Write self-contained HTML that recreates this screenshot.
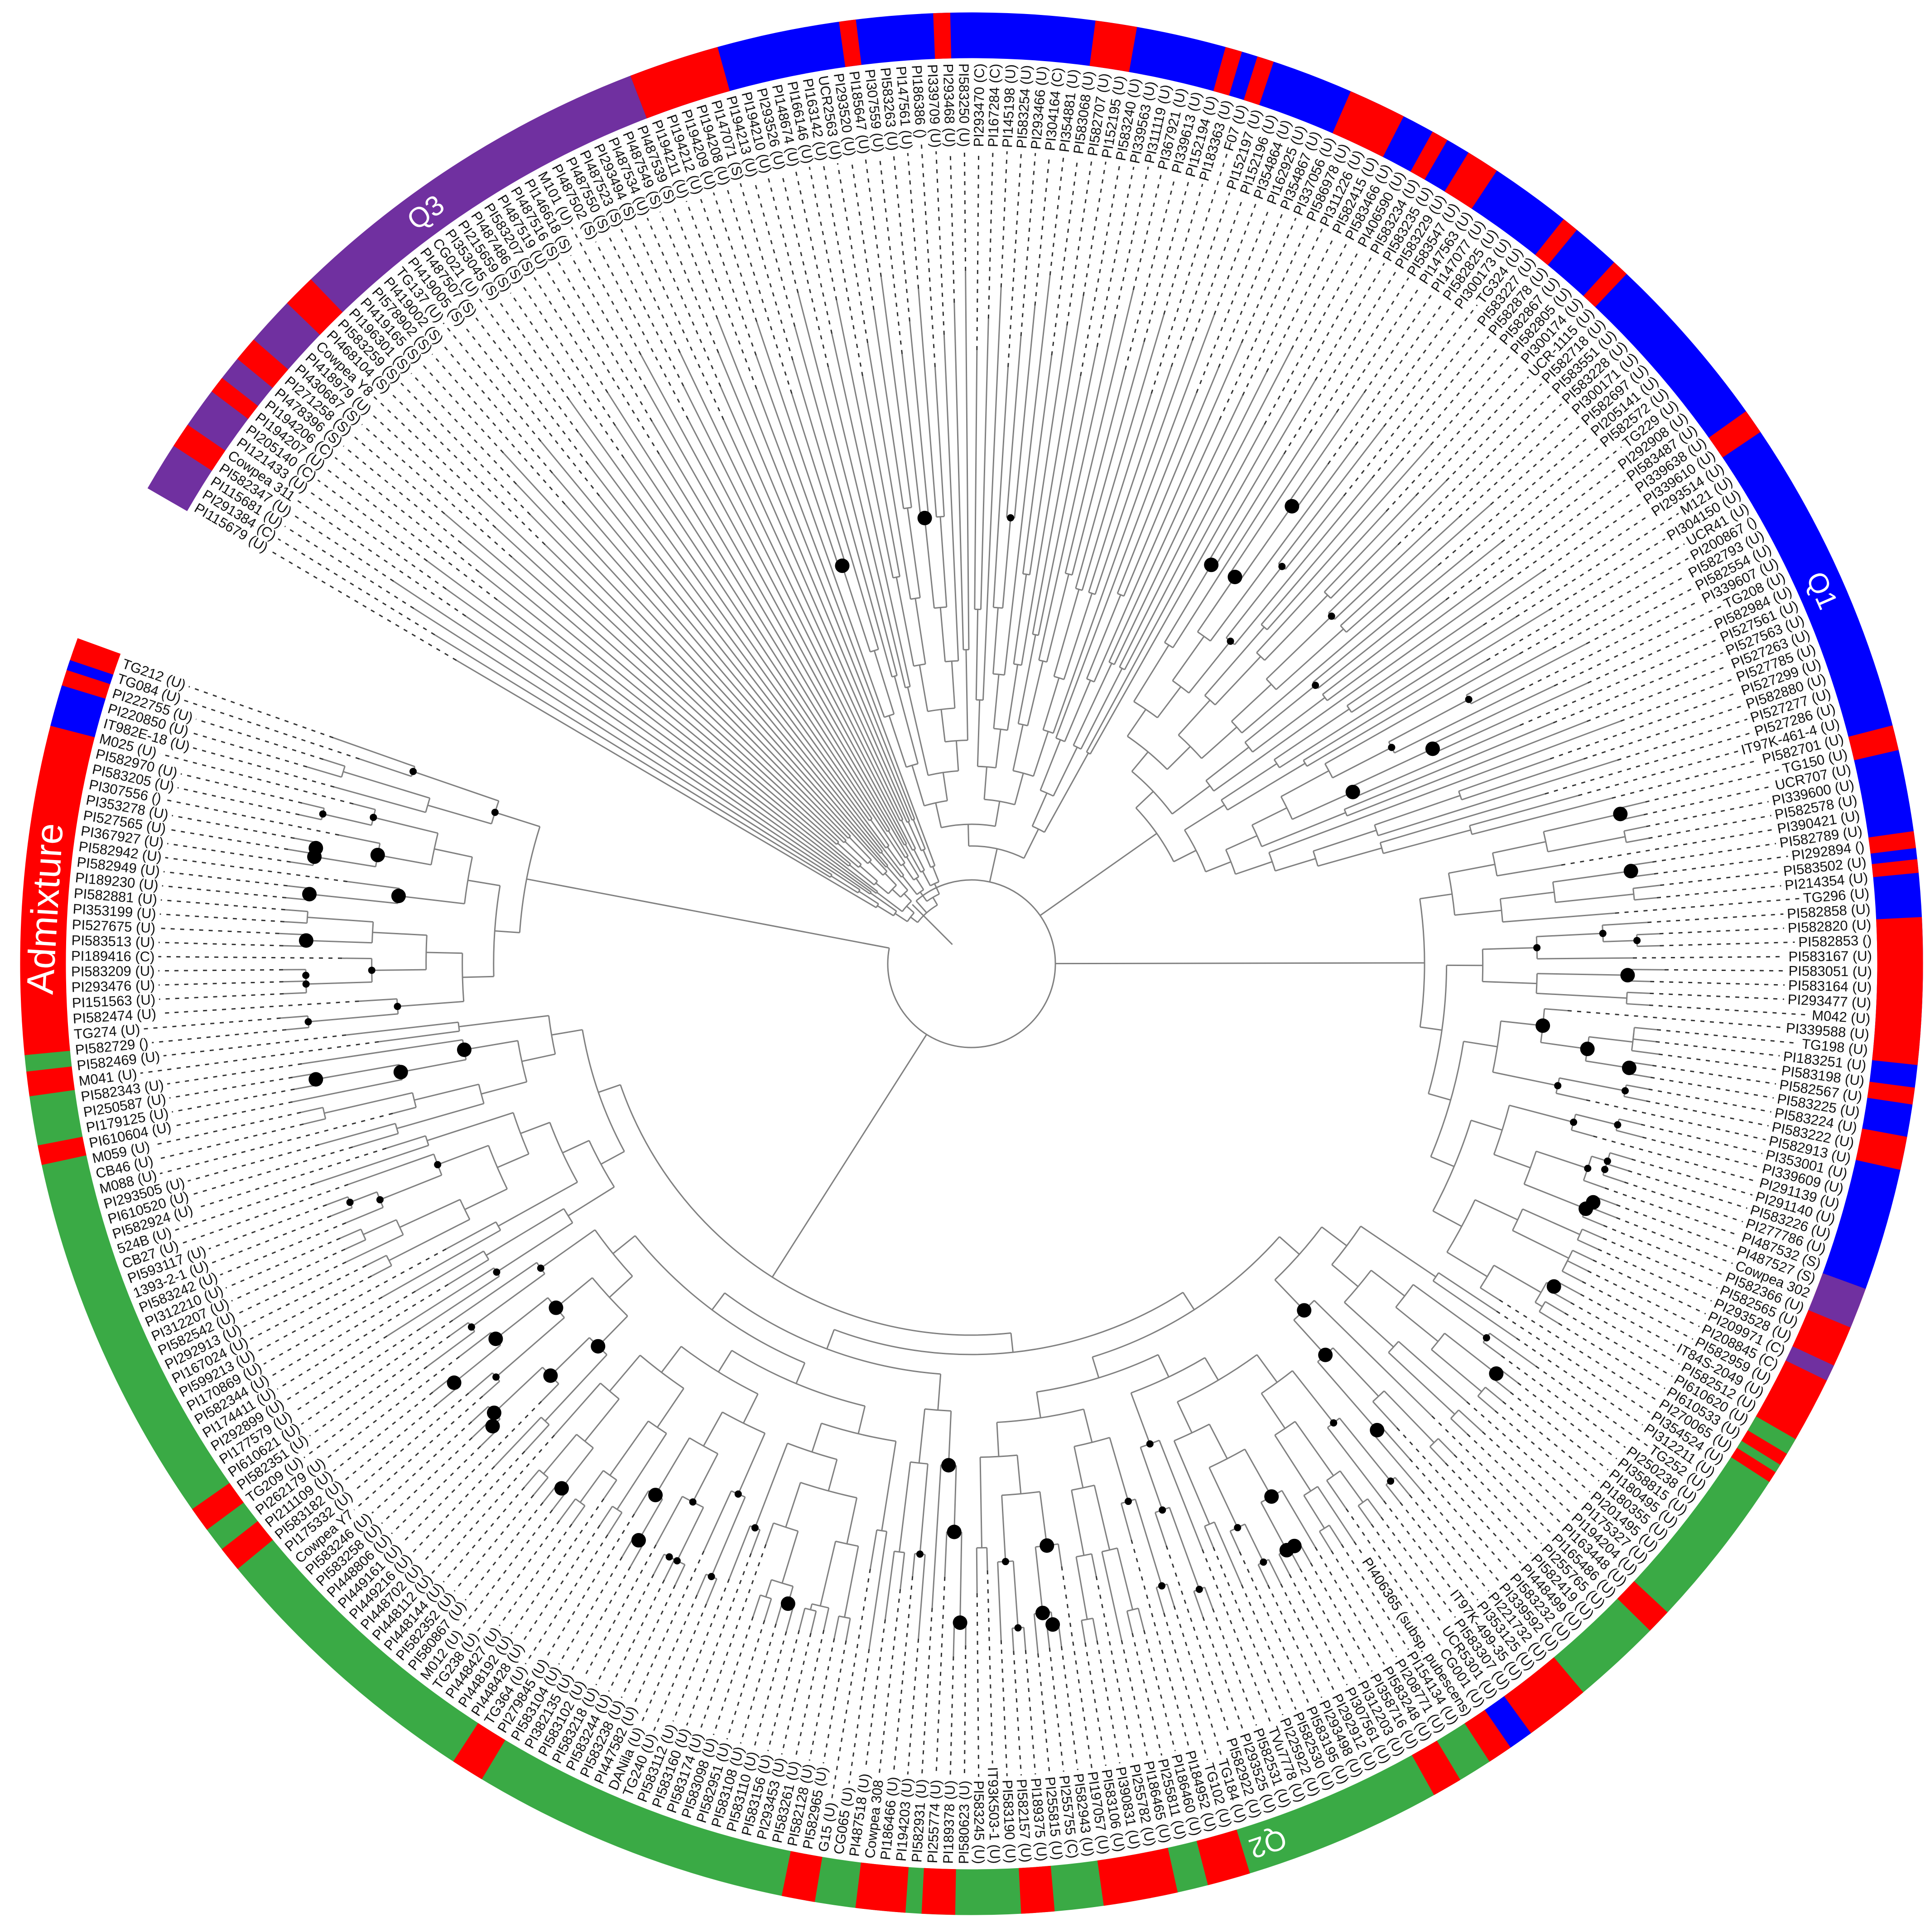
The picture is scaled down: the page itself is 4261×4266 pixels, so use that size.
<!DOCTYPE html>
<html><head><meta charset="utf-8"><title>Cowpea phylogenetic tree</title>
<style>html,body{margin:0;padding:0;background:#fff}svg{display:block}</style></head>
<body>
<svg id="chart" xmlns="http://www.w3.org/2000/svg" width="4261" height="4266" viewBox="0 0 4261 4266">
<rect width="4261" height="4266" fill="#fff"/>
<g id="ring"></g>
<g id="tree"></g>
<g id="dashes"></g>
<g id="dots"></g>
<g id="labels"></g>
<g id="grouplabels"></g>
</svg>
<script>
const leafNames = ["PI115679 (U)","PI291384 (C)","PI115681 (U)","PI582347 (U)","Cowpea 311","PI121433 (U)","PI205140 (C)","PI194207 (U)","PI194206 (C)","PI478396 (S)","PI271258 (S)","PI430687 (S)","PI418979 (U)","Cowpea Y8","PI468104 (S)","PI583259 (S)","PI196301 (S)","PI419165 (S)","PI578902 (S)","PI419002 (S)","TG137 (U)","PI419005 (S)","PI487507 (S)","CG021 (U)","PI353045 (S)","PI215659 (S)","PI487486 (S)","PI583207 (S)","PI487519 (U)","PI487516 (S)","PI146618 (S)","M101 (U)","PI487502 (S)","PI487550 (S)","PI487523 (S)","PI293494 (S)","PI487534 (U)","PI487549 (S)","PI487539 (S)","PI194211 (U)","PI194212 (U)","PI194209 (U)","PI194208 (U)","PI147071 (S)","PI194213 (U)","PI194210 (U)","PI293526 (U)","PI148674 (U)","PI166146 (U)","PI163142 (U)","UCR2563 (U)","PI293520 (U)","PI185647 (U)","PI307559 (U)","PI583263 (U)","PI147561 (U)","PI186386 ()","PI339709 (U)","PI293468 (U)","PI583250 (U)","PI293470 (C)","PI167284 (C)","PI145198 (U)","PI583254 (U)","PI293466 (U)","PI304164 (C)","PI354881 (U)","PI583068 (U)","PI582707 (U)","PI152195 (U)","PI583240 (U)","PI339563 (U)","PI311119 (U)","PI367921 (U)","PI339613 (U)","PI152194 (U)","PI183363 (U)","F07 (U)","PI152197 (U)","PI152196 (U)","PI354864 (U)","PI162925 (U)","PI354867 (U)","PI337056 (U)","PI586978 (U)","PI311226 (U)","PI582415 (U)","PI583466 (U)","PI406590 (U)","PI583234 (U)","PI583235 (U)","PI583229 (U)","PI583547 (U)","PI147563 (U)","PI147077 (U)","PI582825 (U)","PI300173 (U)","TG324 (U)","PI583227 (U)","PI582878 (U)","PI582867 (U)","PI582805 (U)","PI300174 (U)","UCR-1115 (U)","PI582718 (U)","PI583551 (U)","PI583228 (U)","PI300171 (U)","PI582697 (U)","PI205141 (U)","PI582572 (U)","TG229 (U)","PI292908 (U)","PI583487 (U)","PI339638 (U)","PI339610 (U)","PI293514 (U)","M121 (U)","PI304150 (U)","UCR41 (U)","PI200867 ()","PI582793 (U)","PI582554 (U)","PI339607 (U)","TG208 (U)","PI582984 (U)","PI527561 (U)","PI527563 (U)","PI527263 (U)","PI527785 (U)","PI527299 (U)","PI582880 (U)","PI527277 (U)","PI527286 (U)","IT97K-461-4 (U)","PI582701 (U)","TG150 (U)","UCR707 (U)","PI339600 (U)","PI582578 (U)","PI390421 (U)","PI582789 (U)","PI292894 ()","PI583502 (U)","PI214354 (U)","TG296 (U)","PI582858 (U)","PI582820 (U)","PI582853 ()","PI583167 (U)","PI583051 (U)","PI583164 (U)","PI293477 (U)","M042 (U)","PI339588 (U)","TG198 (U)","PI183251 (U)","PI583198 (U)","PI582567 (U)","PI583225 (U)","PI583224 (U)","PI583222 (U)","PI582913 (U)","PI353001 (U)","PI339609 (U)","PI291139 (U)","PI291140 (U)","PI583226 (U)","PI277786 (U)","PI487532 (S)","PI487527 (S)","Cowpea 302","PI582366 (U)","PI582565 (U)","PI293528 (U)","PI209971 (C)","PI208845 (C)","PI582959 (U)","IT84S-2049 (U)","PI582512 (U)","PI610620 (U)","PI610533 (U)","PI270065 (U)","PI354524 (U)","PI312211 (U)","TG252 (U)","PI250238 (U)","PI358815 (U)","PI180495 (U)","PI180355 (U)","PI201495 (U)","PI175327 (U)","PI194204 (U)","PI163448 (U)","PI165486 (U)","PI255765 (U)","PI582419 (U)","PI448499 (U)","PI583232 (U)","PI339592 (U)","PI221732 (U)","PI353125 (U)","IT97K-499-35 (U)","PI583307 (U)","UCR5301 (U)","CG001 (U)","PI406365 (subsp. pubescens)","PI154134 (U)","PI208771 (U)","PI583248 (U)","PI358716 (U)","PI312203 (U)","PI307561 (U)","PI292912 (U)","PI293498 (U)","PI583195 (U)","PI582530 (U)","PI225922 (U)","TVu7778 (U)","PI582531 (U)","PI293525 (U)","PI582922 (U)","TG184 (U)","TG102 (U)","PI184952 (U)","PI186460 (U)","PI255811 (U)","PI186465 (U)","PI255782 (U)","PI390831 (U)","PI583106 (U)","PI197057 (U)","PI582943 (U)","PI255755 (C)","PI255815 (U)","PI189375 (U)","PI582157 (U)","PI583190 (U)","IT93K503-1 (U)","PI583245 (U)","PI580623 (U)","PI189378 (U)","PI255774 (U)","PI582931 (U)","PI194203 (U)","PI186466 (U)","Cowpea 308","PI487518 (U)","CG065 (U)","G15 (U)","PI582965 (U)","PI582128 (U)","PI583261 (U)","PI293453 (U)","PI583156 (U)","PI583110 (U)","PI583108 (U)","PI582951 (U)","PI583098 (U)","PI583174 (U)","PI583160 (U)","PI583112 (U)","TG240 (U)","DANila (U)","PI447582 (U)","PI583238 (U)","PI583244 (U)","PI583218 (U)","PI583102 (U)","PI382135 (U)","PI583104 (U)","PI279845 (U)","TG364 (U)","PI448428 (U)","PI448192 (U)","PI448427 (U)","TG238 (U)","M012 (U)","PI580867 (U)","PI582352 (U)","PI448144 (U)","PI448112 (U)","PI448702 (U)","PI449216 (U)","PI449161 (U)","PI448806 (U)","PI583258 (U)","PI583246 (U)","Cowpea Y7","PI175332 (U)","PI583182 (U)","PI211109 (U)","PI262179 (U)","TG209 (U)","PI582351 (U)","PI610621 (U)","PI177579 (U)","PI292899 (U)","PI174411 (U)","PI582344 (U)","PI170869 (U)","PI599213 (U)","PI167024 (U)","PI292913 (U)","PI582542 (U)","PI312207 (U)","PI312210 (U)","PI583242 (U)","1393-2-1 (U)","PI593117 (U)","CB27 (U)","524B (U)","PI582924 (U)","PI610520 (U)","PI293505 (U)","M088 (U)","CB46 (U)","M059 (U)","PI610604 (U)","PI179125 (U)","PI250587 (U)","PI582343 (U)","M041 (U)","PI582469 (U)","PI582729 ()","TG274 (U)","PI582474 (U)","PI151563 (U)","PI293476 (U)","PI583209 (U)","PI189416 (C)","PI583513 (U)","PI527675 (U)","PI353199 (U)","PI582881 (U)","PI189230 (U)","PI582949 (U)","PI582942 (U)","PI367927 (U)","PI527565 (U)","PI353278 (U)","PI307556 ()","PI583205 (U)","PI582970 (U)","M025 (U)","IT982E-18 (U)","PI220850 (U)","PI222755 (U)","TG084 (U)","TG212 (U)"];

// ring segments: start angle, end angle (deg, clockwise from +x), group colour
const segStart = [210,249,380,393,527.8,529,532,533.5,534.5,
 213,217,219.5,224,
 249,262,267.7,277.5,285.5,287.5,293.5,299,301.5,308.5,312.5,324.5,345.5,352,353.7,357.2,367.5,370.5,
 380,382.5,385,386,390,391.8,
 403,410,414,415.5,419.1,433,437.5,445,451,454,459.5,481,500.5,503.5,
 554.5,558];
const segEnd = [249,380,393,527.8,529,532,533.5,534.5,560,
 214.5,218,221,226,
 254.5,263,268.7,280,286.5,288.5,297,300,303.5,309.5,313.5,326,347,353,354.5,366.1,368.5,372.5,
 382.5,385,386,393,391,392.3,
 404.5,414,415.5,417,420.9,435.6,442,447,453,457,461.5,483,502,505,
 557,558.6];
const segGroup = ["P","B","R","G","R","G","R","G","R",
 "R","R","R","R",
 "R","R","R","R","R","R","R","R","R","R","R","R","R","R","R","R","R","R",
 "P","R","P","R","G","G",
 "R","R","B","R","R","R","R","R","R","R","R","R","R","R",
 "B","B"];
const groupColor = {P:"#7030a0",B:"#0000ff",R:"#ff0000",G:"#3aaa45"};

const CX=2145, CY=2128, RIN=2000, ROUT=2100, LABEL_R=1988;
const A0=210, A1=560;
const N=leafNames.length;
const NS="http://www.w3.org/2000/svg";
function rad(d){return d*Math.PI/180;}
function pt(r,a){return [CX+r*Math.cos(rad(a)), CY+r*Math.sin(rad(a))];}
function leafAngle(i){return A0+(i+0.5)*(A1-A0)/N;}
function el(tag,attrs,parent){const e=document.createElementNS(NS,tag);for(const k in attrs)e.setAttribute(k,attrs[k]);parent.appendChild(e);return e;}

// ring
const ringG=document.getElementById('ring');
for(let i=0;i<segStart.length;i++){
  const a1=segStart[i], a2=segEnd[i];
  const p1=pt(ROUT,a1),p2=pt(ROUT,a2),p3=pt(RIN,a2),p4=pt(RIN,a1);
  const lg=(a2-a1)>180?1:0;
  const d=`M${p1[0]},${p1[1]} A${ROUT},${ROUT} 0 ${lg} 1 ${p2[0]},${p2[1]} L${p3[0]},${p3[1]} A${RIN},${RIN} 0 ${lg} 0 ${p4[0]},${p4[1]} Z`;
  const s=el('path',{d:d,fill:groupColor[segGroup[i]],stroke:groupColor[segGroup[i]],'stroke-width':1},ringG);
  
  
}

// tree topology (top-level clades by angle range) and recursive build
const cladeFrom=[210,250,300,346,393,534];
const cladeTo=[250,300,346,393,534,560];
const cladeRadius=[150,260,500,1000,820,1000];
const cladeStep=[0.35,1.0,1.0,1.0,1.0,1.0];
const fracs=[0.5,0.3,0.62,0.22,0.5,0.7,0.4,0.15,0.55,0.8];
let nodeCount=0;
function idxFor(a){return Math.max(0,Math.min(N,Math.round((a-A0)/(A1-A0)*N)));}
function build(lo,hi,r,sc){
  if(hi-lo===1){
    return {leaf:lo,a:leafAngle(lo),r:Math.min(1530,Math.max(r+50,1320+((lo*37)%7)*35))};
  }
  const n=hi-lo;const f=fracs[nodeCount++%fracs.length];
  const s=lo+Math.max(1,Math.min(n-1,Math.round(n*f)));
  const kids=[];
  for(const [a,b] of [[lo,s],[s,hi]]){
    const m=b-a;
    const cr=m===1?r:Math.min(1470,r+sc*(40+320/m));
    kids.push(build(a,b,cr,sc));
  }
  const node={kids:kids,r:r,n:n,id:nodeCount};
  node.a=(kids[0].a+kids[1].a)/2;
  return node;
}
const topClades=[];
for(let c=0;c<cladeFrom.length;c++){
  const lo=idxFor(cladeFrom[c]),hi=idxFor(cladeTo[c]);
  if(hi>lo) topClades.push(build(lo,hi,cladeRadius[c],cladeStep[c]));
}
const treeRoot={kids:topClades,r:185,a:0,n:N,id:-1};
treeRoot.a=(topClades[0].a+topClades[topClades.length-1].a)/2;

const treeG=document.getElementById('tree'),dashG=document.getElementById('dashes'),dotG=document.getElementById('dots'),labG=document.getElementById('labels');
const lineStyle={stroke:'#808080','stroke-width':3,fill:'none'};
function draw(node){
  if(node.leaf!==undefined) return;
  const as=node.kids.map(k=>k.a);
  const amin=Math.min(...as),amax=Math.max(...as);
  const p1=pt(node.r,amin),p2=pt(node.r,amax);
  const arc=el('path',Object.assign({d:`M${p1[0]},${p1[1]} A${node.r},${node.r} 0 ${(amax-amin)>180?1:0} 1 ${p2[0]},${p2[1]}`},lineStyle),treeG);
  
  
  for(const k of node.kids){
    const q1=pt(node.r,k.a),q2=pt(k.r,k.a);
    const ln=el('line',Object.assign({x1:q1[0],y1:q1[1],x2:q2[0],y2:q2[1]},lineStyle),treeG);
    
    
    draw(k);
  }
  if(node.n<=6 && node.id%2===0 && node.r>900){
    const p=pt(node.r,node.a);
    const dr=8+(node.id%4)*4;
    const c=el('circle',{cx:p[0],cy:p[1],r:dr,fill:'#000'},dotG);
    
    
  }
}
draw(treeRoot);
{const p=pt(185,225),q=pt(60,225);
 const l=el('line',Object.assign({x1:p[0],y1:p[1],x2:q[0],y2:q[1]},lineStyle),treeG);
 
 }

// leaves: labels and dashed connectors
const tips=[];
(function collect(n){if(n.leaf!==undefined)tips.push(n);else n.kids.forEach(collect);})(treeRoot);
for(const t of tips){
  const a=t.a;const norm=((a%360)+360)%360;
  const left=norm>90&&norm<270;
  const p=pt(LABEL_R,a);
  const rot=left?a+180:a;
  const tx=el('text',{x:p[0],y:p[1],'font-family':'"Liberation Sans", sans-serif','font-size':31,fill:'#111','text-anchor':left?'start':'end','dominant-baseline':'central',transform:`rotate(${rot} ${p[0]} ${p[1]})`},labG);
  tx.textContent=leafNames[t.leaf];
  
  
  let w=150;
  try{w=tx.getComputedTextLength();}catch(e){}
  if(!w) w=leafNames[t.leaf].length*17;
  const rEnd=LABEL_R-w-8;
  if(rEnd>t.r+5){
    const q1=pt(t.r,a),q2=pt(rEnd,a);
    const dl=el('line',{x1:q1[0],y1:q1[1],x2:q2[0],y2:q2[1],stroke:'#333','stroke-width':3,'stroke-dasharray':'9 12'},dashG);
    
    
  }
}

// group labels on the ring
const gNames=["Q3","Q1","Q2","Admixture"];
const gAngles=[234,336.3,71.4,183.4];
const gSizes=[62,62,62,84];
const gl=document.getElementById('grouplabels');
for(let i=0;i<gNames.length;i++){
  const p=pt((RIN+ROUT)/2,gAngles[i]);
  const t=el('text',{x:p[0],y:p[1],'font-family':'"Liberation Sans", sans-serif','font-size':gSizes[i],fill:'#fff','text-anchor':'middle','dominant-baseline':'central',transform:`rotate(${gAngles[i]+90} ${p[0]} ${p[1]})`},gl);
  t.textContent=gNames[i];
  
  
}
</script>
</body></html>
